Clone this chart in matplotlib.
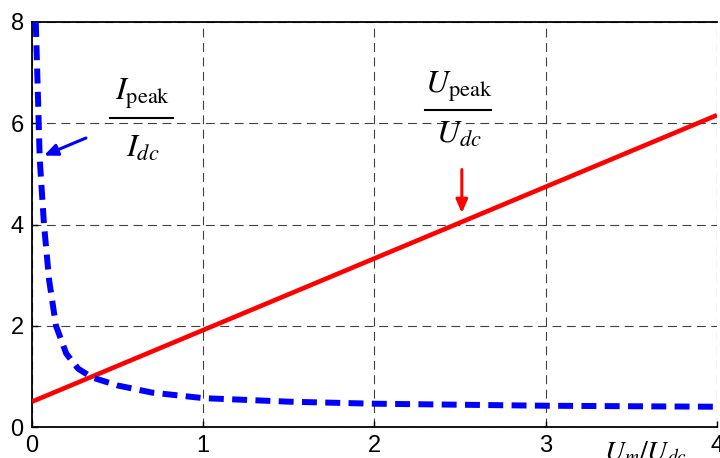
import matplotlib.pyplot as plt

plt.rcParams['font.family'] = ['Liberation Sans', 'DejaVu Sans']
plt.rcParams['mathtext.fontset'] = 'stix'

# U_peak/U_dc grows linearly with Um/Udc
u_x = [0.0, 4.0]
u_y = [0.5, 6.16]

# I_peak/I_dc falls off steeply near zero
i_x = [0.022, 0.035, 0.045, 0.07, 0.10, 0.14, 0.20, 0.27, 0.35, 0.5, 0.7,
       1.0, 1.5, 2.0, 2.5, 3.0, 3.5, 4.0]
i_y = [8.0, 6.5, 5.3, 4.0, 2.9, 2.0, 1.45, 1.15, 0.98, 0.82, 0.68,
       0.57, 0.50, 0.46, 0.44, 0.42, 0.41, 0.40]

xticks = [0, 1, 2, 3, 4]
yticks = [0, 2, 4, 6, 8]

fig = plt.figure(figsize=(7.2, 4.58), dpi=100)
ax = fig.add_axes([32 / 720, 1 - 427 / 458, 685 / 720, 405 / 458])

ax.plot(u_x, u_y, color='#ff0000', lw=3.3, solid_capstyle='butt', zorder=3)
ax.plot(i_x, i_y, color='#0000ff', lw=4.3, linestyle=(0, (2.5, 1.4)), zorder=3)

ax.set_xlim(0, 4)
ax.set_ylim(0, 8)
ax.set_xticks(xticks)
ax.set_yticks(yticks)
ax.tick_params(direction='in', length=4, labelsize=17, pad=6, width=1)
ax.grid(True, color='#404040', lw=0.8, linestyle=(0, (8, 5)))
ax.spines['right'].set_visible(False)
for s in ['left', 'bottom', 'top']:
    ax.spines[s].set_linewidth(1.3)


def fraction(xc, x0, x1, y_num, y_bar, y_den, num, den):
    """Stacked fraction: numerator, bar and denominator as separate pieces."""
    ax.text(xc, y_num, num, fontsize=23, ha='center', va='baseline')
    ax.plot([x0, x1], [y_bar, y_bar], color='black', lw=1.5, zorder=4)
    ax.text(xc, y_den, den, fontsize=23, ha='center', va='baseline')


fraction(0.645, 0.455, 0.823, 6.46, 6.10, 5.33,
         r'$I_{\mathrm{peak}}$', r'$I_{dc}$')
fraction(2.49, 2.295, 2.68, 6.60, 6.26, 5.61,
         r'$U_{\mathrm{peak}}$', r'$U_{dc}$')

ax.annotate('', xy=(0.055, 5.34), xytext=(0.33, 5.73),
            arrowprops=dict(arrowstyle='-|>,head_length=0.8,head_width=0.35',
                            color='#0000ff', lw=2.2))
ax.annotate('', xy=(2.51, 4.17), xytext=(2.51, 5.14),
            arrowprops=dict(arrowstyle='-|>,head_length=0.8,head_width=0.35',
                            color='#ff0000', lw=2.2))

ax.text(3.58, -0.25, r'$U_m/U_{dc}$', fontsize=20, ha='center', va='top',
        clip_on=False)

fig.savefig('out.png', dpi=100)
